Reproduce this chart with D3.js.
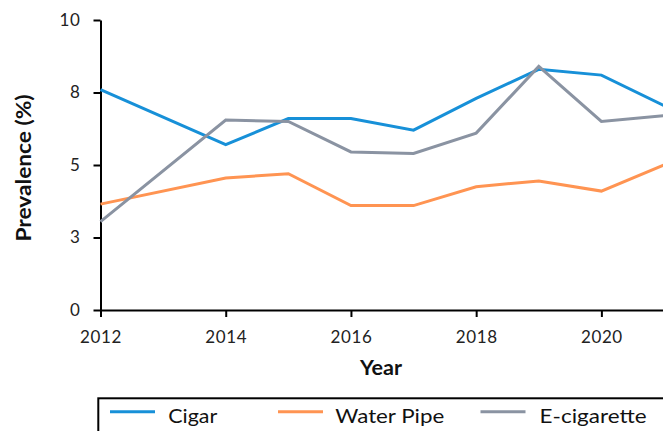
<!DOCTYPE html>
<html>
<head>
<meta charset="utf-8">
<script src="https://cdn.jsdelivr.net/npm/d3@7"></script>
<style>
  html, body { margin: 0; padding: 0; background: #fff; overflow: hidden; }
  svg { display: block; }
</style>
</head>
<body>
<svg id="chart" width="663" height="431"></svg>
<script>
// ---- data ----
const years = [2012, 2014, 2015, 2016, 2017, 2018, 2019, 2020, 2021];
const cigar = [7.6, 5.7, 6.6, 6.6, 6.2, 7.3, 8.3, 8.1, 7.05];
const waterPipe = [3.65, 4.55, 4.7, 3.6, 3.6, 4.25, 4.45, 4.1, 5.0];
const eCigarette = [3.05, 6.55, 6.5, 5.45, 5.4, 6.1, 8.4, 6.5, 6.7];
const seriesNames = ["Cigar", "Water Pipe", "E-cigarette"];
const seriesColors = ["#1790d8", "#ff9452", "#8a93a2"];
const xTickValues = [2012, 2014, 2016, 2018, 2020];
const yTickValues = [0, 2.5, 5, 7.5, 10];
const yTickLabels = ["0", "3", "5", "8", "10"];
const xTitle = "Year";
const yTitle = "Prevalence (%)";

const seriesValues = [cigar, waterPipe, eCigarette];

const svg = d3.select("#chart");
const font = "Lato, 'Open Sans', sans-serif";

const x = d3.scaleLinear().domain([2012, 2021]).range([100.5, 664]);
const y = d3.scaleLinear().domain([0, 10]).range([310, 20]);

// x axis
const xAxis = svg.append("g")
  .attr("transform", `translate(0,${y(0)})`)
  .call(d3.axisBottom(x).tickValues(xTickValues).tickFormat(d3.format("d"))
        .tickSize(7).tickSizeOuter(0).tickPadding(14));
xAxis.select(".domain").attr("stroke", "#000").attr("stroke-width", 2);
xAxis.selectAll(".tick line").attr("stroke", "#000").attr("stroke-width", 2);
xAxis.selectAll(".tick text").attr("font-family", font).attr("font-size", 17)
  .attr("fill", "#222").attr("letter-spacing", 0.6);

// y axis
const yAxis = svg.append("g")
  .attr("transform", `translate(${x(2012)},0)`)
  .call(d3.axisLeft(y).tickValues(yTickValues)
        .tickFormat((d, i) => yTickLabels[i])
        .tickSize(7).tickSizeOuter(0).tickPadding(13));
yAxis.select(".domain").attr("stroke", "#000").attr("stroke-width", 2);
yAxis.selectAll(".tick line").attr("stroke", "#000").attr("stroke-width", 2);
yAxis.selectAll(".tick text").attr("font-family", font).attr("font-size", 17)
  .attr("fill", "#222").attr("letter-spacing", 0.6);

// lines
const line = d3.line().x((d, i) => x(years[i])).y(d => y(d));
svg.append("g").selectAll("path")
  .data(seriesValues)
  .join("path")
  .attr("fill", "none")
  .attr("stroke", (d, i) => seriesColors[i])
  .attr("stroke-width", 3)
  .attr("stroke-linejoin", "miter")
  .attr("d", line);

// axis titles
svg.append("text")
  .attr("x", 381).attr("y", 375)
  .attr("text-anchor", "middle")
  .attr("font-family", font).attr("font-weight", "bold").attr("font-size", 20)
  .attr("fill", "#111")
  .attr("textLength", 42).attr("lengthAdjust", "spacingAndGlyphs")
  .text(xTitle);

svg.append("text")
  .attr("transform", "translate(31,168) rotate(-90)")
  .attr("text-anchor", "middle")
  .attr("font-family", font).attr("font-weight", "bold").attr("font-size", 20)
  .attr("fill", "#111")
  .attr("textLength", 147).attr("lengthAdjust", "spacingAndGlyphs")
  .text(yTitle);

// legend
const legend = svg.append("g");
legend.append("rect")
  .attr("x", 98.3).attr("y", 398.3)
  .attr("width", 600).attr("height", 80)
  .attr("fill", "none").attr("stroke", "#000").attr("stroke-width", 2);

const legendLineX = [110, 278, 480.5];
const legendTextX = [168.3, 335.3, 539.6];
const legendTextW = [49, 109, 107];
seriesNames.forEach((name, i) => {
  legend.append("line")
    .attr("x1", legendLineX[i]).attr("x2", legendLineX[i] + 45)
    .attr("y1", 411.7).attr("y2", 411.7)
    .attr("stroke", seriesColors[i]).attr("stroke-width", 3);
  legend.append("text")
    .attr("x", legendTextX[i]).attr("y", 423.3)
    .attr("font-family", font).attr("font-size", 19)
    .attr("fill", "#111")
    .attr("textLength", legendTextW[i]).attr("lengthAdjust", "spacingAndGlyphs")
    .text(name);
});
</script>
</body>
</html>
